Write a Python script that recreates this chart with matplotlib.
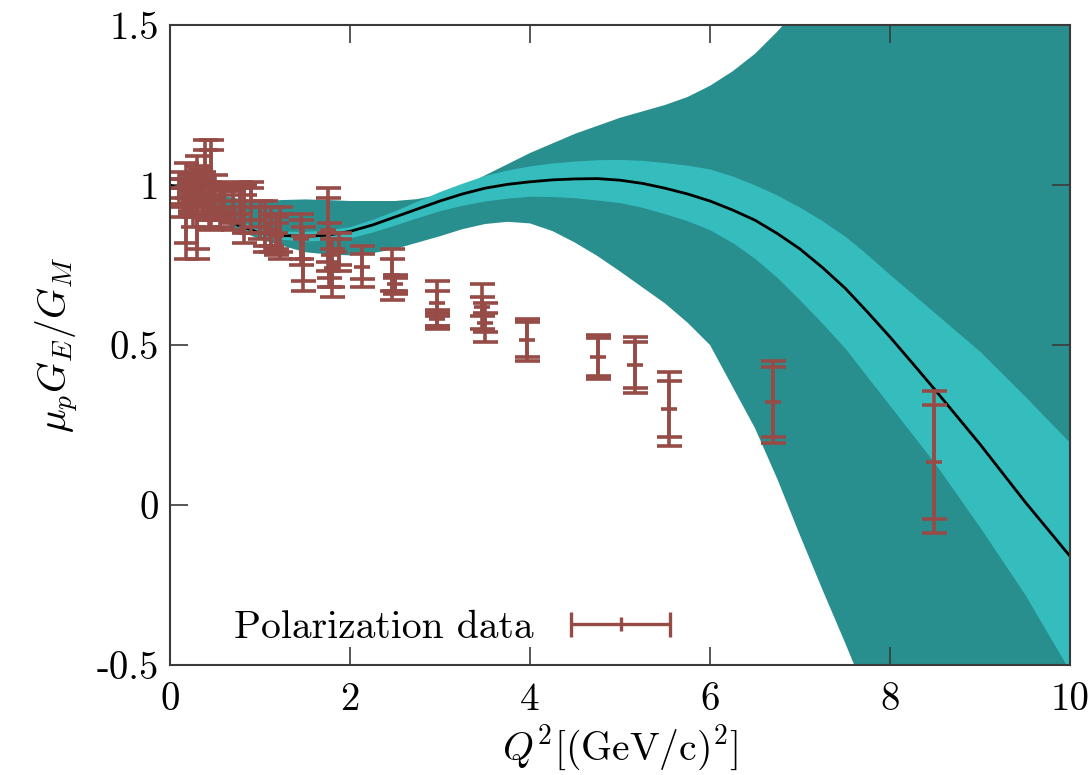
import numpy as np
import matplotlib
matplotlib.use('Agg')
from matplotlib import pyplot as plt
from matplotlib.container import ErrorbarContainer
from matplotlib.legend_handler import HandlerErrorbar

# fit curve
fit_q2 = [0, 0.25, 0.5, 0.75, 1, 1.25, 1.5, 1.75, 2, 2.25, 2.5, 2.75, 3, 3.25, 3.5,
          3.75, 4, 4.25, 4.5, 4.75, 5, 5.25, 5.5, 5.75, 6, 6.25, 6.5, 6.75, 7,
          7.25, 7.5, 7.75, 8, 8.25, 8.5, 8.75, 9, 9.25, 9.5, 9.75, 10]
fit_central = [1.0, 0.97, 0.92, 0.875, 0.85, 0.842, 0.84, 0.843, 0.855, 0.875, 0.90,
               0.925, 0.95, 0.972, 0.99, 1.002, 1.01, 1.016, 1.019, 1.02, 1.015,
               1.005, 0.99, 0.972, 0.95, 0.922, 0.89, 0.848, 0.80, 0.742, 0.678,
               0.603, 0.525, 0.443, 0.36, 0.275, 0.19, 0.10, 0.01, -0.075, -0.16]
inner_hi = [1.0, 0.965, 0.93, 0.893, 0.86, 0.856, 0.855, 0.86, 0.87, 0.893, 0.92,
            0.95, 0.98, 1.006, 1.03, 1.047, 1.06, 1.069, 1.075, 1.079, 1.08, 1.077,
            1.07, 1.062, 1.05, 1.028, 1.0, 0.968, 0.93, 0.888, 0.84, 0.782, 0.72,
            0.66, 0.60, 0.54, 0.48, 0.41, 0.34, 0.267, 0.195]
inner_lo = [1.0, 0.955, 0.91, 0.87, 0.84, 0.83, 0.825, 0.828, 0.835, 0.853, 0.875,
            0.898, 0.92, 0.937, 0.95, 0.959, 0.965, 0.964, 0.96, 0.953, 0.945, 0.93,
            0.91, 0.888, 0.86, 0.82, 0.77, 0.71, 0.64, 0.567, 0.49, 0.40, 0.31,
            0.22, 0.13, 0.03, -0.07, -0.175, -0.28, -0.40, -0.52]
outer_hi = [1.0, 0.985, 0.97, 0.958, 0.95, 0.953, 0.955, 0.953, 0.95, 0.95, 0.95,
            0.956, 0.97, 0.995, 1.03, 1.065, 1.10, 1.13, 1.16, 1.185, 1.21, 1.23,
            1.25, 1.275, 1.31, 1.355, 1.41, 1.48, 1.56, 1.68, 1.8, 1.9, 2.0, 2.1,
            2.2, 2.3, 2.4, 2.5, 2.6, 2.7, 2.8]
outer_lo = [1.0, 0.95, 0.90, 0.86, 0.83, 0.81, 0.79, 0.783, 0.78, 0.787, 0.80,
            0.82, 0.84, 0.862, 0.878, 0.885, 0.88, 0.856, 0.82, 0.778, 0.73, 0.68,
            0.63, 0.57, 0.50, 0.37, 0.24, 0.08, -0.095, -0.265, -0.43, -0.60, -0.78,
            -0.98, -1.18, -1.38, -1.6, -1.82, -2.05, -2.28, -2.5]

# polarization data: Q^2, ratio, inner (stat) error, outer (total) error
pol_q2 = [0.10, 0.14, 0.18, 0.22, 0.26, 0.30, 0.33, 0.37, 0.39, 0.43, 0.46, 0.50,
          0.55, 0.60, 0.70, 0.78, 0.82, 0.90, 1.00, 1.05, 1.12, 1.18, 1.22, 1.45,
          1.48, 1.75, 1.77, 1.80, 1.88, 2.13, 2.47, 2.50, 2.97, 2.97, 3.47, 3.50,
          3.97, 4.75, 5.17, 5.54, 6.70, 8.49]
pol_ratio = [0.99, 0.96, 0.92, 0.97, 0.95, 0.93, 0.99, 0.97, 1.02, 0.94, 1.00, 0.96,
             0.93, 0.95, 0.93, 0.95, 0.91, 0.93, 0.89, 0.87, 0.86, 0.84, 0.85, 0.83,
             0.77, 0.86, 0.78, 0.74, 0.79, 0.745, 0.72, 0.69, 0.63, 0.58, 0.62, 0.57,
             0.516, 0.4625, 0.4375, 0.30, 0.322, 0.134]
pol_stat = [0.03, 0.03, 0.10, 0.04, 0.05, 0.13, 0.04, 0.05, 0.09, 0.05, 0.11, 0.05,
            0.04, 0.03, 0.05, 0.04, 0.06, 0.06, 0.04, 0.06, 0.05, 0.04, 0.06, 0.06,
            0.07, 0.10, 0.07, 0.06, 0.04, 0.04, 0.05, 0.02, 0.04, 0.02, 0.03, 0.03,
            0.055, 0.06, 0.072, 0.088, 0.109, 0.178]
pol_tot = [0.05, 0.06, 0.15, 0.06, 0.08, 0.16, 0.06, 0.07, 0.12, 0.07, 0.14, 0.07,
           0.06, 0.05, 0.07, 0.06, 0.09, 0.08, 0.06, 0.08, 0.07, 0.06, 0.08, 0.08,
           0.10, 0.13, 0.10, 0.09, 0.06, 0.065, 0.08, 0.03, 0.07, 0.03, 0.07, 0.06,
           0.065, 0.07, 0.088, 0.116, 0.128, 0.222]

x_ticks = [0, 2, 4, 6, 8, 10]
y_ticks = [-0.5, 0, 0.5, 1, 1.5]
y_ticklabels = ['-0.5', '0', '0.5', '1', '1.5']

dark = '#288f8e'
light = '#35bcbc'
red = '#964b46'

plt.rcParams['font.family'] = 'serif'
plt.rcParams['font.serif'] = ['cmr10']
plt.rcParams['mathtext.fontset'] = 'cm'

fig = plt.figure(figsize=(10.88, 7.75), dpi=100)
ax = fig.add_axes([170 / 1088, 1 - 665 / 775, 900 / 1088, 640 / 775])

ax.fill_between(fit_q2, outer_lo, outer_hi, color=dark, lw=0, zorder=1)
ax.fill_between(fit_q2, inner_lo, inner_hi, color=light, lw=0, zorder=2)
ax.plot(fit_q2, fit_central, color='black', lw=2, zorder=3)

# outer (total) and inner (stat) error bars
ax.errorbar(pol_q2, pol_ratio, yerr=pol_tot, fmt='none', ecolor=red,
            elinewidth=2.6, capsize=9, capthick=2.6, zorder=4)
ax.errorbar(pol_q2, pol_ratio, yerr=pol_stat, fmt='_', color=red, ms=11, mew=2.6,
            elinewidth=2.6, capsize=9, capthick=2.6, zorder=4)

# legend sample: horizontal bar with caps
leg_h = ax.errorbar([np.nan], [np.nan], xerr=[1], fmt='|', color=red, ms=10, mew=2.4,
                    elinewidth=2.4, capsize=9, capthick=2.4, label='Polarization data')
ax.legend(handles=[leg_h], loc='center right', bbox_to_anchor=(0.5556, 0.058),
          frameon=False, markerfirst=False, fontsize=28.5, borderpad=0, borderaxespad=0,
          handlelength=2.5, handletextpad=0.95,
          handler_map={ErrorbarContainer: HandlerErrorbar(xerr_size=1.24)})

ax.set_xlim(0, 10)
ax.set_ylim(-0.5, 1.5)
ax.set_xticks(x_ticks)
ax.set_xticklabels([str(t) for t in x_ticks])
ax.set_yticks(y_ticks)
ax.set_yticklabels(y_ticklabels)
ax.tick_params(direction='in', length=13, width=1.2, top=True, right=True,
               labelsize=28, color='#3a3a3a')
ax.tick_params(axis='x', pad=12)
ax.tick_params(axis='y', pad=8)
for s in ax.spines.values():
    s.set_color('#3a3a3a')
    s.set_linewidth(1.5)
    s.set_zorder(6)

ax.set_xlabel(r'$Q^2[(\mathrm{GeV/c})^2]$', fontsize=28.5, labelpad=4)
ax.set_ylabel(r'$\mu_p G_E/G_M$', fontsize=28.5, labelpad=12)

fig.savefig('out.png', dpi=100)
